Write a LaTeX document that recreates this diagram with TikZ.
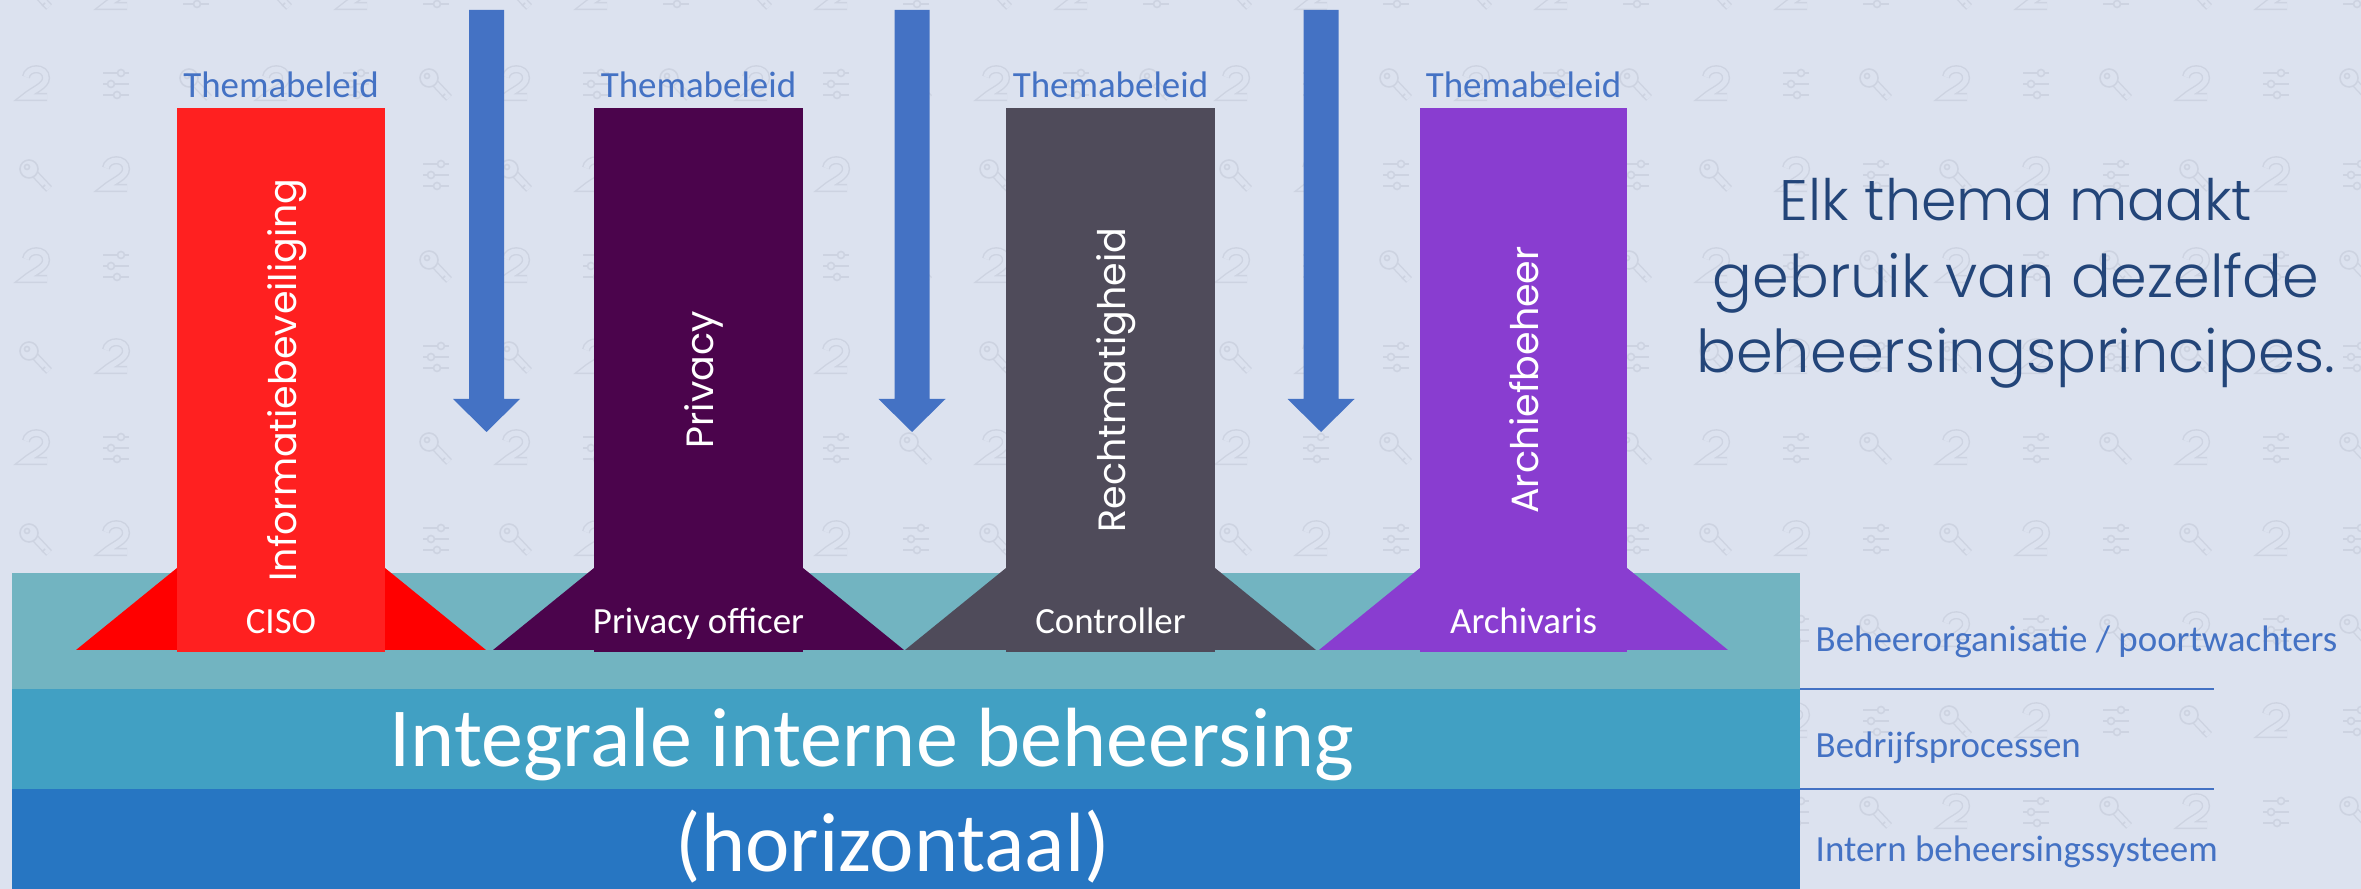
\documentclass[tikz,border=0pt]{standalone}
\usepackage{fontspec}
\usepackage{graphicx}
\setmainfont{Carlito}
\newfontfamily\geo{Poppins}
\IfFontExistsTF{Poppins Light}{\newfontfamily\lightf{Poppins Light}}{%
  \IfFontExistsTF{Fira Sans Light}{\newfontfamily\lightf{Fira Sans Light}}{%
    \IfFontExistsTF{Lato Light}{\newfontfamily\lightf{Lato Light}}{%
      \IfFontExistsTF{Open Sans Light}{\newfontfamily\lightf{Open Sans Light}}{%
        \newfontfamily\lightf{Poppins}}}}}
\definecolor{bgc}{HTML}{DCE2EF}
\definecolor{iconc}{HTML}{CDD3E1}
\definecolor{bandA}{HTML}{72B4C1}
\definecolor{bandB}{HTML}{41A0C3}
\definecolor{bandC}{HTML}{2776C2}
\definecolor{arrowc}{HTML}{4472C4}
\definecolor{themec}{HTML}{4472C4}
\definecolor{darkblue}{HTML}{234579}
\definecolor{redp}{HTML}{FF2020}
\definecolor{redt}{HTML}{FF0000}
\definecolor{purp}{HTML}{4B044C}
\definecolor{greyp}{HTML}{4F4B5A}
\definecolor{violp}{HTML}{893DD0}
\tikzset{
  icon0/.pic={
    \draw[iconc, line width=0.4pt, double=bgc, double distance=1.5pt, line join=miter]
      (-10,-7) .. controls (-9,-17) and (10,-18) .. (10,-6)
      .. controls (10,2) and (-3,6) .. (-11,13) -- (11,13);
  },
  icon1/.pic={
    \draw[iconc, line width=0.45pt] (-13,-11) -- (13,-11) (-13,0) -- (13,0) (-13,11) -- (13,11);
    \filldraw[draw=iconc, fill=bgc, line width=0.45pt]
      (5,-11) circle[radius=3.5] (-5,0) circle[radius=3.5] (1,11) circle[radius=3.5];
  },
  icon2/.pic={
    \draw[iconc, line width=0.4pt, double=bgc, double distance=1.5pt] (-3,-3) -- (13,14);
    \draw[iconc, line width=0.45pt] (9,10) -- (6,13);
    \filldraw[draw=iconc, fill=bgc, line width=0.45pt] (-7,-6) circle[radius=9];
    \draw[iconc, line width=0.45pt] (-9,-8) circle[radius=2.5];
  },
  vlabel/.style={rotate=90, anchor=base, text=white, inner sep=0pt,
    font=\geo\fontsize{10.8}{12}\selectfont},
  themelabel/.style={anchor=base, text=themec, inner sep=0pt,
    font=\fontsize{10.5}{12}\selectfont},
  rolelabel/.style={anchor=base, text=white, inner sep=0pt,
    font=\fontsize{10.5}{12}\selectfont},
  bigtext/.style={anchor=base, text=white, inner sep=0pt,
    font=\fontsize{23.9}{28}\selectfont},
  layerlabel/.style={anchor=base west, text=themec, inner sep=0pt,
    font=\fontsize{10.5}{12}\selectfont},
  righttext/.style={anchor=base, text=darkblue, inner sep=0pt,
    font=\lightf\fontsize{17.3}{20}\selectfont},
  sepline/.style={draw=themec, line width=0.5pt},
}
\newcommand\mypillar[7]{%
  \fill[#5] (#2,568) -- (#3,568) -- ({#3+101},650) -- ({#2-101},650) -- cycle;
  \fill[#4] (#2,108) rectangle (#3,652);
  \node[vlabel] (#1) at ({(#2+#3)/2+15},380) {#6};
  \node[themelabel] (#1-theme) at ({(#2+#3)/2},98) {Themabeleid};
  \node[rolelabel] (#1-role) at ({(#2+#3)/2},634) {#7};
}
\newcommand\blockarrow[1]{%
  \fill[arrowc] ({#1-17.5},10) -- ({#1+17.5},10) -- ({#1+17.5},399) -- ({#1+33.5},399)
    -- (#1,432) -- ({#1-33.5},399) -- ({#1-17.5},399) -- cycle;
}
\begin{document}
\begin{tikzpicture}[x=0.01cm,y=-0.01cm]
\useasboundingbox (0,0) rectangle (2361,889);
\fill[bgc] (0,0) rectangle (2361,889);
% background pattern
\begin{scope}
\clip (0,0) rectangle (2361,889);
\foreach \k in {0,...,9}{
  \foreach \j in {0,...,29}{
    \pgfmathtruncatemacro\t{mod(\j+2*(1-mod(\k,2)),3)}
    \pgfmathsetmacro\xx{36+80*\j}
    \pgfmathsetmacro\yy{-7+91*\k}
    \pic at (\xx,\yy) {icon\t};
  }
}
\end{scope}
% layers
\fill[bandA] (12,573) rectangle (1800,689);
\fill[bandB] (12,689) rectangle (1800,789);
\fill[bandC] (12,789) rectangle (1800,889);
% pillars
\mypillar{info}{177}{385}{redp}{redt}{Informatiebeveiliging}{CISO}
\mypillar{privacy}{594}{803}{purp}{purp}{Privacy}{Privacy officer}
\mypillar{recht}{1006}{1215}{greyp}{greyp}{Rechtmatigheid}{Controller}
\mypillar{archief}{1420}{1627}{violp}{violp}{Archiefbeheer}{Archivaris}
% arrows
\blockarrow{486.5}
\blockarrow{912}
\blockarrow{1321}
% big texts
\node[bigtext] (integ) at (872,767) {Integrale interne beheersing};
\node[bigtext] (horiz) at (893,872) {(horizontaal)};
% layer labels
\node[layerlabel] (l1) at (1815,652) {Beheerorganisatie / poortwachters};
\node[layerlabel] (l2) at (1815,758) {Bedrijfsprocessen};
\node[layerlabel] (l3) at (1815,862) {Intern beheersingssysteem};
\coordinate (s1a) at (1800,689);
\coordinate (s1b) at (2214,689);
\coordinate (s2a) at (1800,789);
\coordinate (s2b) at (2214,789);
\draw[sepline] (s1a) -- (s1b);
\draw[sepline] (s2a) -- (s2b);
% right statement
\node[righttext] (r1) at (2016,221) {\resizebox{4.72cm}{!}{Elk thema maakt}};
\node[righttext] (r2) at (2016,298) {\resizebox{6.06cm}{!}{gebruik van dezelfde}};
\node[righttext] (r3) at (2016,373) {\resizebox{6.39cm}{!}{beheersingsprincipes.}};
\end{tikzpicture}
\end{document}
